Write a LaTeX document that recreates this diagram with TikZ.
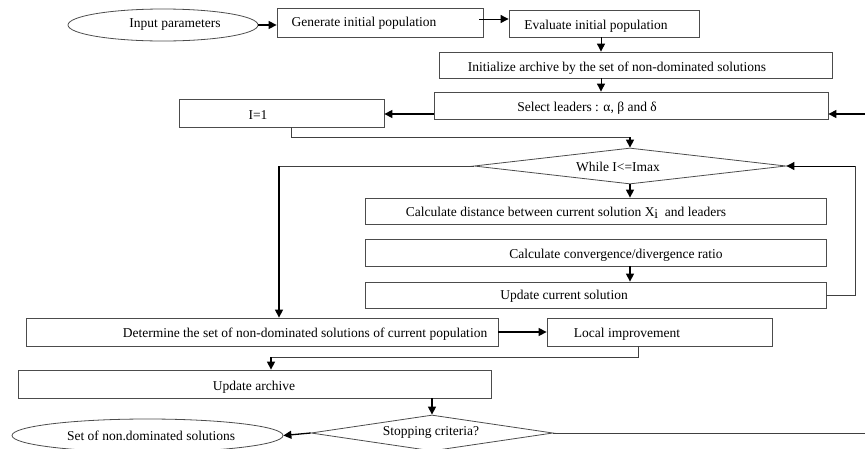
\documentclass[tikz,border=0pt]{standalone}
\usepackage{fontspec}
\setmainfont{Liberation Serif}
\usetikzlibrary{shapes.geometric,arrows.meta}
\begin{document}
\begin{tikzpicture}[x=1pt,y=-1pt,
  every node/.style={font=\fontsize{13.5}{16}\selectfont},
  box/.style={draw=black!70,line width=0.8pt,rectangle,inner sep=0pt},
  oval/.style={draw=black!70,line width=0.8pt,ellipse,inner sep=0pt},
  dia/.style={draw=black!70,line width=0.8pt,diamond,inner sep=0pt},
  txt/.style={inner sep=0pt,anchor=center},
  arr/.style={draw=black,line width=1.3pt,-{Triangle[length=8pt,width=8pt]}},
  thinarr/.style={draw=black,line width=0.9pt,-{Triangle[length=8pt,width=8pt]}},
  thinline/.style={draw=black!75,line width=0.9pt}]
\useasboundingbox (0,0) rectangle (865,448);
% shapes
\node[oval,minimum width=190pt,minimum height=32pt] (inp) at (163,25) {};
\node[box,minimum width=206pt,minimum height=29pt] (gen) at (380,22.5) {};
\node[box,minimum width=190pt,minimum height=27pt] (eval) at (604,23.5) {};
\node[box,minimum width=393pt,minimum height=26pt] (init) at (635.5,65) {};
\node[box,minimum width=394pt,minimum height=27pt] (sel) at (631,105.5) {};
\node[box,minimum width=205pt,minimum height=28pt] (i1) at (281.5,113) {};
\node[dia,minimum width=312pt,minimum height=36pt] (while) at (630,166) {};
\node[box,minimum width=461pt,minimum height=26pt] (dist) at (595.5,211) {};
\node[box,minimum width=461pt,minimum height=27pt] (conv) at (595.5,252.5) {};
\node[box,minimum width=461pt,minimum height=26pt] (upd) at (595.5,295) {};
\node[box,minimum width=472pt,minimum height=28pt] (det) at (262,332) {};
\node[box,minimum width=225pt,minimum height=28pt] (loc) at (659.5,332) {};
\node[box,minimum width=473pt,minimum height=28pt] (arch) at (254.5,384) {};
\node[dia,minimum width=242pt,minimum height=36pt] (stop) at (432,433) {};
\node[oval,minimum width=271pt,minimum height=33pt] (out) at (147.5,435.5) {};
% texts
\node[txt] (inp-t) at (175,25) {Input parameters};
\node[txt] (gen-t) at (364,23) {Generate initial population};
\node[txt] (eval-t) at (596,26) {Evaluate initial population};
\node[txt] (init-t) at (617,68) {Initialize archive by the set of non-dominated solutions};
\node[txt] (sel-t) at (587,108) {Select leaders : α, β and δ};
\node[txt] (i1-t) at (258,115) {I=1};
\node[txt] (while-t) at (618,167) {While I<=Imax};
\node[txt] (dist-t) at (566,213) {Calculate distance between current solution X\raisebox{-2pt}{i}\ \ and leaders};
\node[txt] (conv-t) at (616,255) {Calculate convergence/divergence ratio};
\node[txt] (upd-t) at (564,296) {Update current solution};
\node[txt] (det-t) at (305,334) {Determine the set of non-dominated solutions of current population};
\node[txt] (loc-t) at (627,334) {Local improvement};
\node[txt] (arch-t) at (254,387) {Update archive};
\node[txt] (stop-t) at (431,432) {Stopping criteria?};
\node[txt] (out-t) at (151,436) {Set of non.dominated solutions};
% helper coordinates
\coordinate (rin) at (865,114);
\coordinate (j1) at (291,137);
\coordinate (j2) at (279,166);
\coordinate (j3) at (855,295);
\coordinate (j4) at (638,357);
\coordinate (j5) at (271,357);
\coordinate (rout) at (865,433);
% connectors
\draw[arr] (inp.east) -- (inp.east -| gen.west);
\draw[thinarr] ([yshift=3.5pt,xshift=-4pt]gen.east) -- ([yshift=3.5pt]gen.east -| eval.west);
\draw[thinarr] ([xshift=-3pt]eval.south) -- ([xshift=-3pt]eval.south |- init.north);
\draw[thinarr] ([xshift=-3pt]eval.south |- init.south) -- ([xshift=-3pt]eval.south |- sel.north);
\draw[arr] (rin) -- (rin -| sel.east);
\draw[arr] (rin -| sel.west) -- (rin -| i1.east);
\draw[thinline] (j1 |- i1.south) -- (j1) -- (j1 -| while.north);
\draw[arr] (j1 -| while.north) -- (while.north);
\draw[thinline] (while.west) -- (j2);
\draw[arr] (j2) -- (j2 |- det.north);
\draw[arr] (while.south) -- (while.south |- dist.north);
\draw[arr] (while.south |- conv.south) -- (while.south |- upd.north);
\draw[thinline] (upd.east |- j3) -- (j3) -- (j3 |- while.east);
\draw[thinarr] (j3 |- while.east) -- (while.east);
\draw[arr] (det.east) -- (loc.west);
\draw[thinline] (j4 |- loc.south) -- (j4) -- (j5);
\draw[arr] (j5) -- (j5 |- arch.north);
\draw[arr] (stop.north |- arch.south) -- (stop.north);
\draw[arr] (stop.west) -- (out.east);
\draw[thinline] (stop.east) -- (rout);
\end{tikzpicture}
\end{document}
